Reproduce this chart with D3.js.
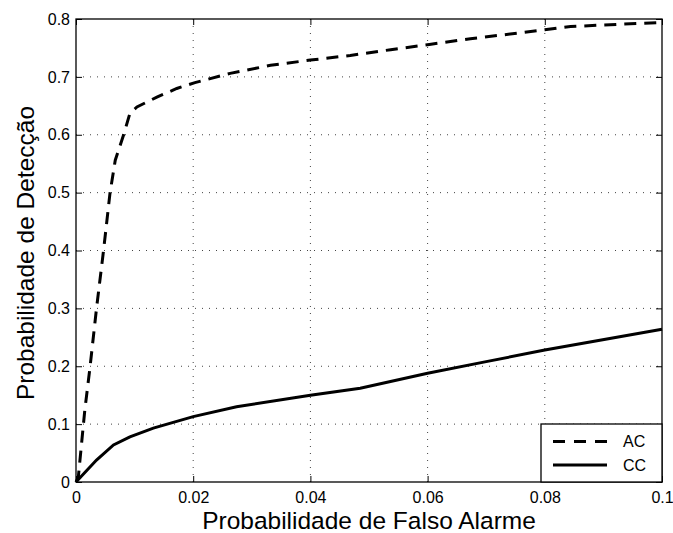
<!DOCTYPE html>
<html>
<head>
<meta charset="utf-8">
<script src="https://cdn.jsdelivr.net/npm/d3@7"></script>
<style>
  html, body { margin: 0; padding: 0; background: #fff; }
  svg { display: block; }
  text { font-family: Arial, "Liberation Sans", Helvetica, sans-serif; fill: #000; }
</style>
</head>
<body>
<svg id="chart" width="673" height="533"></svg>
<script>
// ---- data ----
const acX = [0, 0.0004, 0.0015, 0.0024, 0.0035, 0.0047, 0.0058, 0.0067, 0.0081, 0.0092, 0.0104, 0.0138, 0.0172, 0.0203, 0.0263, 0.0332, 0.040, 0.0468, 0.0537, 0.0603, 0.0673, 0.0758, 0.0844, 0.093, 0.1];
const acY = [0, 0.009, 0.124, 0.199, 0.30, 0.40, 0.499, 0.556, 0.599, 0.637, 0.648, 0.665, 0.680, 0.690, 0.706, 0.720, 0.729, 0.737, 0.747, 0.756, 0.766, 0.776, 0.787, 0.791, 0.794];
const ccX = [0, 0.0035, 0.0064, 0.0092, 0.0132, 0.020, 0.0274, 0.040, 0.0485, 0.060, 0.070, 0.080, 0.1];
const ccY = [0, 0.038, 0.064, 0.078, 0.093, 0.113, 0.130, 0.150, 0.162, 0.188, 0.208, 0.228, 0.264];
const xTicks = [0, 0.02, 0.04, 0.06, 0.08, 0.1];
const yTicks = [0, 0.1, 0.2, 0.3, 0.4, 0.5, 0.6, 0.7, 0.8];
const seriesNames = ["AC", "CC"];
const xLabel = "Probabilidade de Falso Alarme";
const yLabel = "Probabilidade de Detecção";

// ---- layout ----
const L = 76, R = 662, T = 19, B = 482;
const svg = d3.select("#chart");
const x = d3.scaleLinear().domain([0, 0.1]).range([L, R]);
const y = d3.scaleLinear().domain([0, 0.8]).range([B, T]);

const fmt = d => d === 0 ? "0" : String(+d.toFixed(2));

// grid
const grid = svg.append("g");
xTicks.slice(1, -1).forEach(t => {
  grid.append("line").attr("x1", x(t)).attr("x2", x(t)).attr("y1", T).attr("y2", B)
    .attr("stroke", "#444").attr("stroke-width", 1).attr("stroke-dasharray", "1,6");
});
yTicks.slice(1, -1).forEach(t => {
  grid.append("line").attr("x1", L).attr("x2", R).attr("y1", y(t)).attr("y2", y(t))
    .attr("stroke", "#444").attr("stroke-width", 1).attr("stroke-dasharray", "1,6");
});

// axes (ticks inward)
const tickLen = 6;
const xAxisB = d3.axisBottom(x).tickValues(xTicks).tickFormat(fmt).tickSizeInner(-tickLen).tickSizeOuter(0).tickPadding(10);
const xAxisT = d3.axisTop(x).tickValues(xTicks).tickFormat("").tickSizeInner(-tickLen).tickSizeOuter(0);
const yAxisL = d3.axisLeft(y).tickValues(yTicks).tickFormat(fmt).tickSizeInner(-tickLen).tickSizeOuter(0).tickPadding(6);
const yAxisR = d3.axisRight(y).tickValues(yTicks).tickFormat("").tickSizeInner(-tickLen).tickSizeOuter(0);

function styleAxis(g) {
  g.select(".domain").remove();
  g.selectAll("line").attr("stroke", "#000").attr("stroke-width", 1);
  g.selectAll("text").style("font-family", "Arial, 'Liberation Sans', sans-serif").style("font-size", "16px").attr("fill", "#000");
}
svg.append("g").attr("transform", `translate(0,${B})`).call(xAxisB).call(styleAxis);
svg.append("g").attr("transform", `translate(0,${T})`).call(xAxisT).call(styleAxis);
svg.append("g").attr("transform", `translate(${L},0)`).call(yAxisL).call(styleAxis);
svg.append("g").attr("transform", `translate(${R},0)`).call(yAxisR).call(styleAxis);

// box
svg.append("rect").attr("x", L).attr("y", T).attr("width", R - L).attr("height", B - T)
  .attr("fill", "none").attr("stroke", "#000").attr("stroke-width", 1.3);

// lines
const line = d3.line().x(d => x(d[0])).y(d => y(d[1]));
const acData = acX.map((v, i) => [v, acY[i]]);
const ccData = ccX.map((v, i) => [v, ccY[i]]);
svg.append("path").datum(acData).attr("d", line).attr("fill", "none").attr("stroke", "#000")
  .attr("stroke-width", 3).attr("stroke-dasharray", "12,8");
svg.append("path").datum(ccData).attr("d", line).attr("fill", "none").attr("stroke", "#000")
  .attr("stroke-width", 3);

// legend
const lg = svg.append("g");
lg.append("rect").attr("x", 541).attr("y", 424).attr("width", R - 541).attr("height", B - 424)
  .attr("fill", "#fff").attr("stroke", "#000").attr("stroke-width", 1.3);
const rows = [441.5, 465];
seriesNames.forEach((name, i) => {
  lg.append("line").attr("x1", 553).attr("x2", 607).attr("y1", rows[i]).attr("y2", rows[i])
    .attr("stroke", "#000").attr("stroke-width", 3)
    .attr("stroke-dasharray", i === 0 ? "12,9" : null);
  lg.append("text").attr("x", 623).attr("y", rows[i]).attr("dy", "0.35em")
    .style("font-size", "16px").text(name);
});

// axis labels
svg.append("text").attr("x", (L + R) / 2).attr("y", 529).attr("text-anchor", "middle")
  .style("font-size", "24.5px").text(xLabel);
svg.append("text").attr("transform", `translate(34,253) rotate(-90)`).attr("text-anchor", "middle")
  .style("font-size", "24.5px").text(yLabel);
</script>
</body>
</html>
